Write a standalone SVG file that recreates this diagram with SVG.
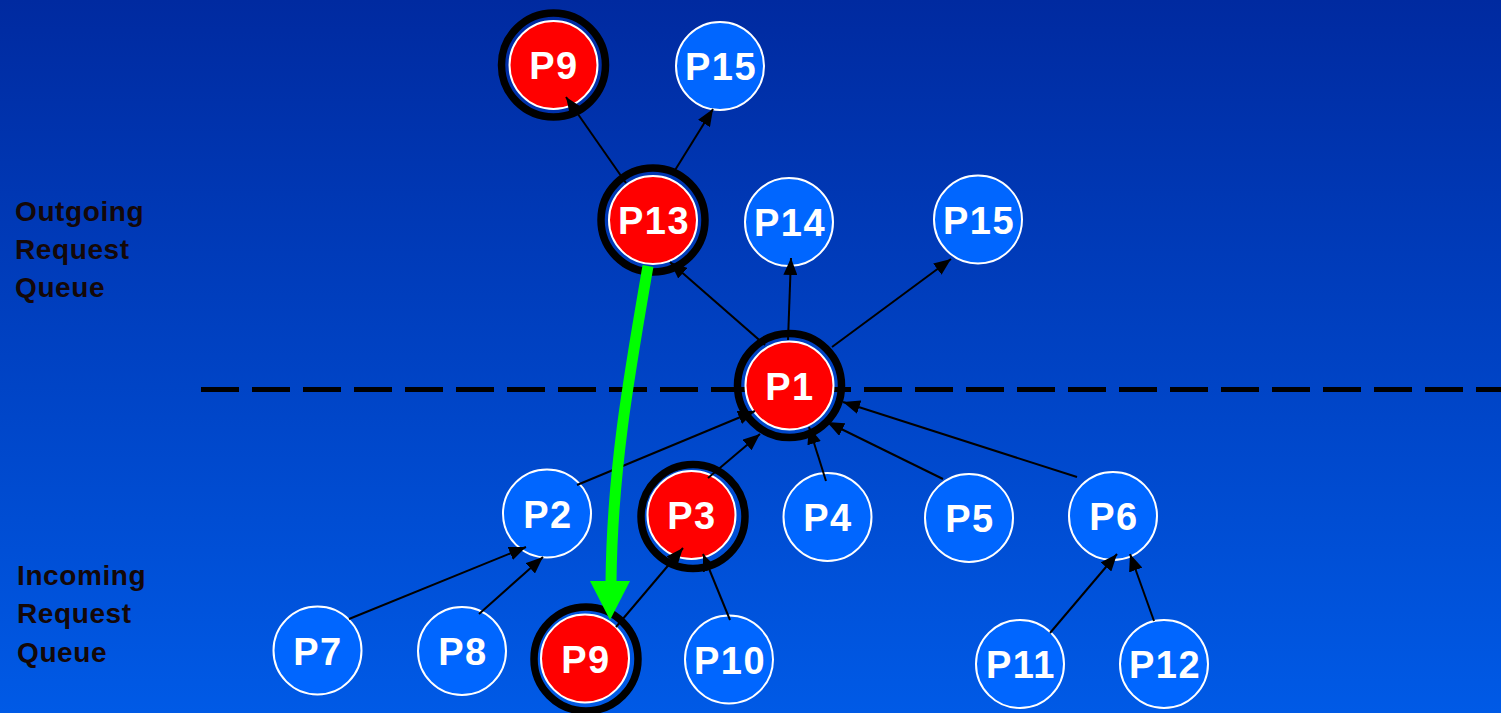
<svg xmlns="http://www.w3.org/2000/svg" width="1501" height="713" viewBox="0 0 1501 713">
  <defs>
    <linearGradient id="bg" x1="0" y1="0" x2="0" y2="1">
      <stop offset="0" stop-color="#002AA0"/>
      <stop offset="1" stop-color="#005AE6"/>
    </linearGradient>
    <marker id="arrow" markerUnits="userSpaceOnUse" markerWidth="17" markerHeight="14" refX="17" refY="7" orient="auto">
      <path d="M0,0 L17,7 L0,14 z" fill="#000"/>
    </marker>
  </defs>
  <style>
    .node { stroke: #fff; stroke-width: 2; }
    .red { fill: #FF0000; }
    .blue { fill: #0066FF; }
    .ring { fill: none; stroke: #000; stroke-width: 7.5; }
    .lbl { font-family: "Liberation Sans", Arial, sans-serif; font-weight: bold; font-size: 38px; letter-spacing: 1.5px; fill: #fff; text-anchor: middle; }
    .side { font-family: "Liberation Sans", Arial, sans-serif; font-weight: bold; font-size: 28px; letter-spacing: 0.6px; fill: #140808; }
    .edge { stroke: #000; stroke-width: 2; fill: none; marker-end: url(#arrow); }
  </style>

  <rect x="0" y="0" width="1501" height="713" fill="url(#bg)"/>

  <!-- queue boundary -->
  <line x1="201" y1="389.5" x2="1501" y2="389.5" stroke="#000" stroke-width="5" stroke-dasharray="38 13"/>

  <!-- side labels -->
  <g id="label-outgoing">
    <text class="side" x="15" y="221">Outgoing</text>
    <text class="side" x="15" y="259">Request</text>
    <text class="side" x="15" y="297">Queue</text>
  </g>
  <g id="label-incoming">
    <text class="side" x="17" y="585">Incoming</text>
    <text class="side" x="17" y="623">Request</text>
    <text class="side" x="17" y="662">Queue</text>
  </g>

  <!-- nodes -->
  <g id="node-P9-top">
    <circle class="ring" cx="553.5" cy="65" r="52"/>
    <circle class="node red" cx="553.5" cy="65" r="44"/>
    <text class="lbl" x="554" y="79">P9</text>
  </g>
  <g id="node-P15-top">
    <circle class="node blue" cx="720" cy="66" r="44"/>
    <text class="lbl" x="721" y="80">P15</text>
  </g>
  <g id="node-P13">
    <circle class="ring" cx="653" cy="220" r="52"/>
    <circle class="node red" cx="653" cy="220" r="44"/>
    <text class="lbl" x="654" y="234">P13</text>
  </g>
  <g id="node-P14">
    <circle class="node blue" cx="789" cy="222" r="44"/>
    <text class="lbl" x="790" y="236">P14</text>
  </g>
  <g id="node-P15">
    <circle class="node blue" cx="978" cy="219.5" r="44"/>
    <text class="lbl" x="979" y="233.5">P15</text>
  </g>
  <g id="node-P1">
    <circle class="ring" cx="789.5" cy="385.5" r="52"/>
    <circle class="node red" cx="789.5" cy="385.5" r="44"/>
    <text class="lbl" x="790" y="399.5">P1</text>
  </g>
  <g id="node-P2">
    <circle class="node blue" cx="547" cy="513.5" r="44"/>
    <text class="lbl" x="548" y="527.5">P2</text>
  </g>
  <g id="node-P3">
    <circle class="ring" cx="693" cy="516.5" r="52"/>
    <circle class="node red" cx="691.5" cy="515" r="44"/>
    <text class="lbl" x="692" y="529">P3</text>
  </g>
  <g id="node-P4">
    <circle class="node blue" cx="827.5" cy="517" r="44"/>
    <text class="lbl" x="828" y="531">P4</text>
  </g>
  <g id="node-P5">
    <circle class="node blue" cx="969" cy="518" r="44"/>
    <text class="lbl" x="970" y="532">P5</text>
  </g>
  <g id="node-P6">
    <circle class="node blue" cx="1113" cy="516" r="44"/>
    <text class="lbl" x="1114" y="530">P6</text>
  </g>
  <g id="node-P7">
    <circle class="node blue" cx="317.5" cy="650.5" r="44"/>
    <text class="lbl" x="318" y="664.5">P7</text>
  </g>
  <g id="node-P8">
    <circle class="node blue" cx="462" cy="651" r="44"/>
    <text class="lbl" x="463" y="665">P8</text>
  </g>
  <g id="node-P9">
    <circle class="ring" cx="586" cy="659" r="52"/>
    <circle class="node red" cx="585" cy="658.5" r="44"/>
    <text class="lbl" x="586" y="672.5">P9</text>
  </g>
  <g id="node-P10">
    <circle class="node blue" cx="729" cy="659.5" r="44"/>
    <text class="lbl" x="730" y="673.5">P10</text>
  </g>
  <g id="node-P11">
    <circle class="node blue" cx="1020" cy="664" r="44"/>
    <text class="lbl" x="1021" y="678">P11</text>
  </g>
  <g id="node-P12">
    <circle class="node blue" cx="1164" cy="664" r="44"/>
    <text class="lbl" x="1165" y="678">P12</text>
  </g>

  <!-- connectors -->
  <g id="connectors">
    <line class="edge" x1="626" y1="183" x2="566" y2="97"/>
    <line class="edge" x1="672" y1="175" x2="713" y2="109"/>
    <line class="edge" x1="765" y1="345" x2="670" y2="262"/>
    <line class="edge" x1="788" y1="340" x2="791" y2="258"/>
    <line class="edge" x1="832" y1="347" x2="951" y2="259"/>
    <line class="edge" x1="577" y1="485" x2="755" y2="411"/>
    <line class="edge" x1="708" y1="478" x2="760" y2="434"/>
    <line class="edge" x1="826" y1="481" x2="809" y2="427"/>
    <line class="edge" x1="943" y1="479" x2="827" y2="422"/>
    <line class="edge" x1="1077" y1="477" x2="843" y2="402"/>
    <line class="edge" x1="349" y1="619" x2="526" y2="547"/>
    <line class="edge" x1="479" y1="614" x2="543" y2="557"/>
    <line class="edge" x1="616" y1="627" x2="683" y2="548"/>
    <line class="edge" x1="730" y1="620" x2="703" y2="554"/>
    <line class="edge" x1="1050" y1="633" x2="1117" y2="554"/>
    <line class="edge" x1="1154" y1="621" x2="1130" y2="554"/>
    <!-- hand-off from P13 to P9 -->
    <path d="M648,266 C630,370 612,470 611,583" fill="none" stroke="#00FF00" stroke-width="11"/>
    <polygon points="590,581 630,581 610,620" fill="#00FF00"/>
  </g>
</svg>
